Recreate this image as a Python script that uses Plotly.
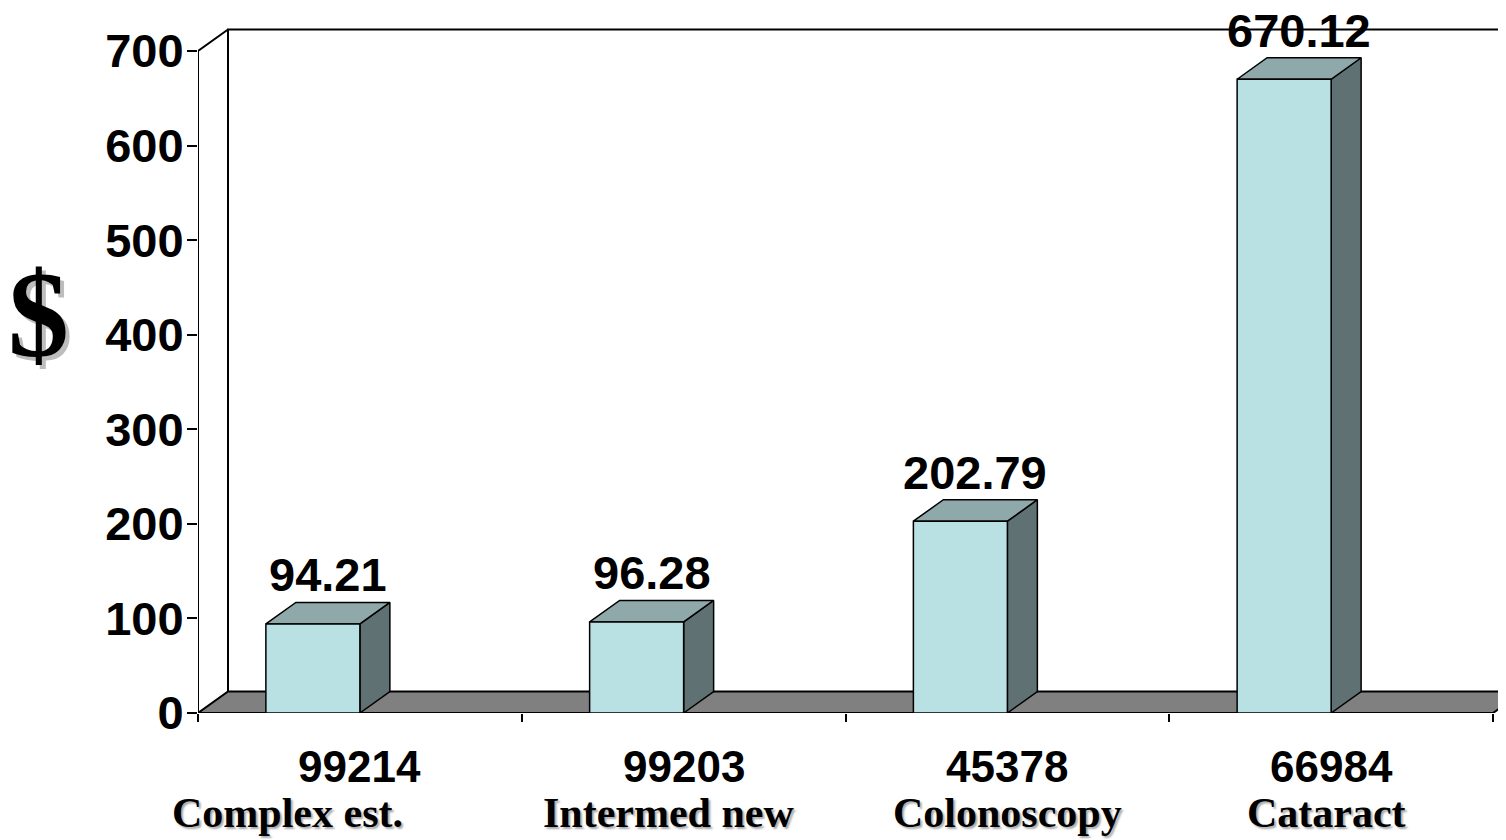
import plotly.graph_objects as go

codes = ["99214", "99203", "45378", "66984"]
descs = ["Complex est.", "Intermed new", "Colonoscopy", "Cataract"]
values = [94.21, 96.28, 202.79, 670.12]
value_labels = ["94.21", "96.28", "202.79", "670.12"]
y_ticks = [0, 100, 200, 300, 400, 500, 600, 700]

# page offset (default body margin of the html page)
OFF = 8
W, H = 1506 - OFF, 840 - OFF

# geometry (in data units)
px_x = 323.75          # pixels per category
px_y = 662 / 700.0     # pixels per value unit
DX = 30 / px_x         # depth offset x
DY = 21.5 / px_y       # depth offset y
BW = 94 / px_x         # bar front width
YMAX = 700
XR = (1506 - 198) / px_x
YR = (713 - 27) / px_y

C_FRONT = "#B9E0E3"
C_TOP = "#8FA9AA"
C_SIDE = "#5F7172"
C_FLOOR = "#808080"

fig = go.Figure()

def poly(xs, ys, fill, width=1.5):
    fig.add_trace(go.Scatter(x=xs, y=ys, mode="lines", fill="toself",
                             fillcolor=fill, line=dict(color="black", width=width),
                             hoverinfo="skip", showlegend=False))

def line(xs, ys, width=2):
    fig.add_trace(go.Scatter(x=xs, y=ys, mode="lines",
                             line=dict(color="black", width=width),
                             hoverinfo="skip", showlegend=False))

n = len(values)
# back wall
line([DX, DX, XR + 1], [DY, YMAX + DY, YMAX + DY], 2)
# front y axis + diagonal
line([0, 0, DX], [0, YMAX, YMAX + DY], 2)
# floor
poly([0, n, n + DX, DX, 0], [0, 0, DY, DY, 0], C_FLOOR, 2)

# bars
sx, sy, tx, ty, fx, fy = [], [], [], [], [], []
for i, v in enumerate(values):
    x1 = i + 0.5
    x0 = x1 - BW
    sx += [x1, x1 + DX, x1 + DX, x1, x1, None]
    sy += [0, DY, v + DY, v, 0, None]
    tx += [x0, x1, x1 + DX, x0 + DX, x0, None]
    ty += [v, v, v + DY, v + DY, v, None]
    fx += [x0, x1, x1, x0, x0, None]
    fy += [0, 0, v, v, 0, None]
for xs, ys, c in [(sx, sy, C_SIDE), (tx, ty, C_TOP), (fx, fy, C_FRONT)]:
    fig.add_trace(go.Scatter(x=xs, y=ys, mode="lines", fill="toself",
                             fillcolor=c, line=dict(color="black", width=1.5),
                             hoverinfo="skip", showlegend=False))

BOLD44 = dict(family="Liberation Sans, Arial", size=44, color="black", weight="bold")
BOLD47 = dict(family="Liberation Sans, Arial", size=47, color="black", weight="bold")
SERIF = dict(family="Liberation Serif, Times New Roman", size=42, color="black",
             weight="bold", shadow="2px 2px 2px #a8a8a8")
desc_xshift = [-72, -15, 0, -5]   # label placement tweaks (pixels)

ann = []
for i, v in enumerate(values):
    ann.append(dict(x=i + 0.5 - BW / 2 + DX / 2, y=v + DY, text=value_labels[i],
                    showarrow=False, xref="x", yref="y", yanchor="bottom",
                    yshift=0, borderpad=0, font=BOLD47))
    ann.append(dict(x=i + 0.5, y=0, text=codes[i], showarrow=False,
                    xref="x", yref="y", yanchor="middle", yshift=-53, font=BOLD44))
    ann.append(dict(x=i + 0.5, y=0, text=descs[i], showarrow=False,
                    xref="x", yref="y", yanchor="middle", yshift=-100,
                    xshift=desc_xshift[i], font=SERIF))

# "$" axis title, placed in paper coords from pixel targets
pw = 1506 - 198
ph = 713 - 30
ann.append(dict(x=(38 - 198) / pw, y=(713 - 316) / ph, xref="paper", yref="paper",
                text="$", showarrow=False, xanchor="center", yanchor="middle",
                font=dict(family="Liberation Serif, Times New Roman", size=122,
                          color="black", weight="bold",
                          shadow="4px 4px 0px #bdbdbd")))

fig.update_layout(
    width=W, height=H,
    margin=dict(l=198 - OFF, r=0, t=27 - OFF, b=840 - 713, autoexpand=False),
    paper_bgcolor="white", plot_bgcolor="white",
    annotations=ann,
    xaxis=dict(range=[0, XR], tickvals=list(range(n + 1)),
               ticktext=[""] * (n + 1), ticks="outside", ticklen=8,
               tickwidth=1.5, tickcolor="black", showgrid=False,
               zeroline=False, showline=False, fixedrange=True),
    yaxis=dict(range=[0, YR], tickvals=y_ticks,
               ticktext=[str(t) for t in y_ticks], ticks="outside", ticklen=10,
               tickwidth=1.5, tickcolor="black", showgrid=False,
               zeroline=False, showline=False, tickfont=BOLD47,
               ticklabelstandoff=-6, fixedrange=True),
    showlegend=False,
)

fig.write_html("out.html")
